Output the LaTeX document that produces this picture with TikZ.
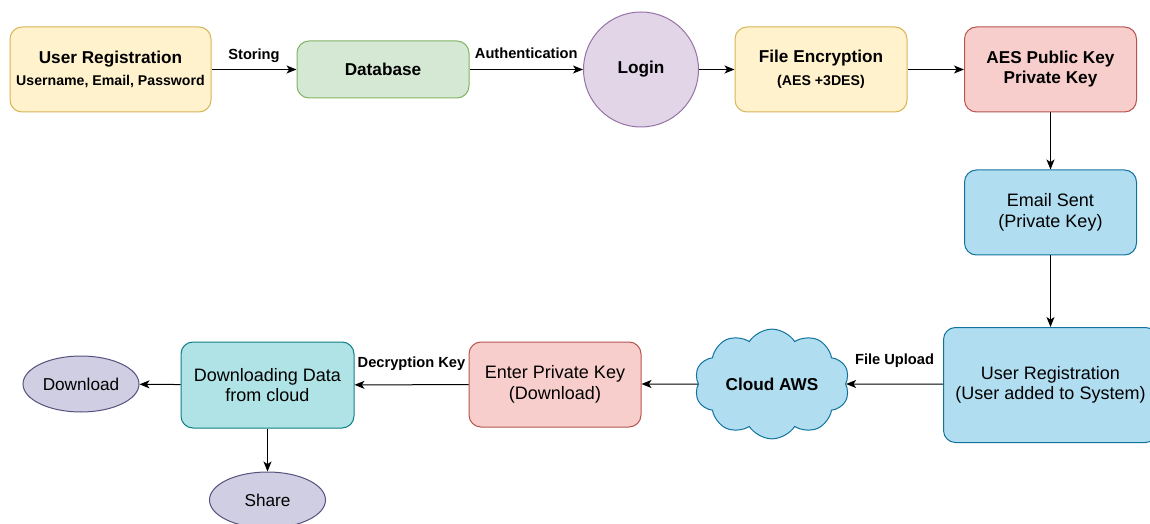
\documentclass[tikz,border=0pt]{standalone}
\usepackage{fontspec}
\setmainfont{Liberation Sans}
\usetikzlibrary{arrows.meta,shapes.geometric,shapes.symbols}

\definecolor{yelfill}{HTML}{FFF2CC}\definecolor{yeldraw}{HTML}{D6B656}
\definecolor{grnfill}{HTML}{D5E8D4}\definecolor{grndraw}{HTML}{82B366}
\definecolor{purfill}{HTML}{E1D5E7}\definecolor{purdraw}{HTML}{9673A6}
\definecolor{redfill}{HTML}{F8CECC}\definecolor{reddraw}{HTML}{B85450}
\definecolor{blufill}{HTML}{B1DDF0}\definecolor{bludraw}{HTML}{10739E}
\definecolor{tealfill}{HTML}{B0E3E6}\definecolor{tealdraw}{HTML}{0E8088}
\definecolor{lavfill}{HTML}{D0CEE2}\definecolor{lavdraw}{HTML}{56517E}

\newcommand{\subtxt}{\fontsize{10.6}{13}\selectfont}

\begin{document}
\begin{tikzpicture}[x=0.75pt,y=-0.75pt,
    line width=0.75pt,
    >={Stealth[length=7.5pt,width=6pt,inset=2pt]},
    box/.style={draw,rounded corners=9pt,align=center,inner sep=2pt,
        minimum width=129pt,minimum height=63.75pt,
        font=\bfseries\fontsize{12.9}{15}\selectfont},
    plain/.style={font=\fontsize{13.5}{15.4}\selectfont},
    oval/.style={draw,ellipse,fill=lavfill,draw=lavdraw,inner sep=0pt,
        minimum width=87pt,minimum height=42pt,font=\fontsize{12.9}{15}\selectfont},
    lbl/.style={font=\bfseries\fontsize{11}{13}\selectfont,inner sep=0pt}]
    \useasboundingbox (0,0) rectangle (1150,524);

    % top row
    \node[box,fill=yelfill,draw=yeldraw,minimum width=150.75pt] (reg) at (110.5,69.5)
        {User Registration\\[1pt]{\subtxt Username, Email, Password}};
    \node[box,fill=grnfill,draw=grndraw,minimum height=42.75pt] (db) at (383,69.5) {Database};
    \node[circle,draw=purdraw,fill=purfill,minimum size=86.25pt,
        font=\bfseries\fontsize{12.9}{15}\selectfont] (login) at (641,69.5) {Login};
    \node[box,fill=yelfill,draw=yeldraw] (enc) at (821,69.5)
        {File Encryption\\[2pt]{\subtxt (AES +3DES)}};
    \node[box,fill=redfill,draw=reddraw] (keys) at (1050.5,69.5) {AES Public Key\\Private Key};

    % right column
    \node[box,plain,fill=blufill,draw=bludraw] (mail) at (1050.5,212.5) {Email Sent\\(Private Key)};
    \node[box,plain,fill=blufill,draw=bludraw,minimum width=160.5pt,minimum height=86.25pt]
        (added) at (1050.5,385) {User Registration\\(User added to System)};

    % bottom row
    \node[cloud,cloud puffs=10,cloud puff arc=115,aspect=1.6,draw=bludraw,fill=blufill,
        minimum width=116.25pt,minimum height=73.5pt,
        font=\bfseries\fontsize{12.9}{15}\selectfont] (aws) at (772,384) {Cloud AWS};
    \node[box,plain,fill=redfill,draw=reddraw] (enter) at (555,384.5) {Enter Private Key\\(Download)};
    \node[box,plain,fill=tealfill,draw=tealdraw,minimum width=129.75pt,minimum height=64.5pt]
        (fetch) at (267.5,385) {Downloading Data\\from cloud};
    \node[oval] (down) at (81,384) {Download};
    \node[oval] (share) at (267.5,500) {Share};

    \draw[->] (reg) -- node[lbl,above=5pt] {Storing} (db);
    \draw[->] (db) -- node[lbl,above=7.5pt] {Authentication} (login);
    \draw[->] (login) -- (enc);
    \draw[->] (enc) -- (keys);
    \draw[->] (keys) -- (mail);
    \draw[->] (mail) -- (added);
    \draw[->] (added.west |- aws) -- node[lbl,above=12pt] {File Upload} (aws);
    \draw[->] (aws) -- (enter.east |- aws);
    \draw[->] (enter) -- node[lbl,above=10pt] {Decryption Key} (fetch);
    \draw[->] (fetch) -- (down);
    \draw[->] (fetch) -- (share);
\end{tikzpicture}
\end{document}
